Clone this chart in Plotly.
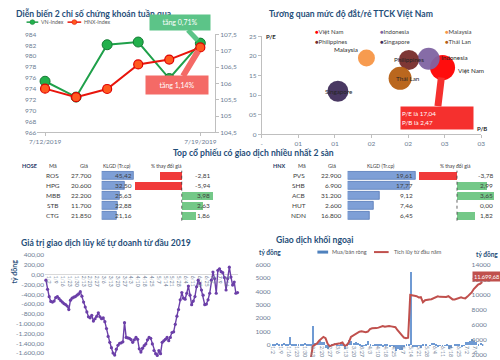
import plotly.graph_objects as go

W, H = 500, 360
def fx(x): return x / W
def fy(y): return 1 - y / H

FONT = "Lato"
TITLE_C = "#1F4E79"
TICK_C = "#6B7C93"
TXT_C = "#404040"
TITLE_SIZE = 8.6

# ---------------- data ----------------
# Panel 1: index movement last week
dates = ["7/12/2019", "7/15/2019", "7/16/2019", "7/17/2019", "7/18/2019", "7/19/2019"]
vn_index = [975.4, 972.5, 982.1, 982.6, 975.9, 982.4]
hnx_index = [105.84, 105.58, 105.83, 106.58, 106.73, 107.10]
vn_change_text = "tăng 0,71%"
hnx_change_text = "tăng 1,14%"
left_ticks = [966, 968, 970, 972, 974, 976, 978, 980, 982, 984]
right_ticks = [104.5, 105, 105.5, 106, 106.5, 107, 107.5]
right_tick_text = ["104,5", "105", "105,5", "106", "106,5", "107", "107,5"]

# Panel 2: valuation bubbles
countries = ["Việt Nam", "Indonesia", "Malaysia", "Philippines", "Singapore", "Thái Lan"]
pb = [2.47, 2.28, 1.43, 2.01, 1.04, 1.89]
pe = [17.04, 19.3, 19.5, 19.0, 11.0, 14.3]
bubble_size = [25, 22, 17, 20, 21, 23]
country_colors = ["#FF0000", "#8064A2", "#F79646", "#772C2A", "#3F2D5A", "#B65F12"]
pb_ticks = [0, 0.5, 1, 1.5, 2, 2.5, 3]
pb_tick_text = ["-", "01", "01", "02", "02", "03", "03"]
pe_ticks = [0, 5, 10, 15, 20, 25]
pe_tick_text = ["0", "05", "10", "15", "20", "25"]

# Panel 3: top traded stocks
hose_codes = ["ROS", "HPG", "MBB", "STB", "CTG"]
hose_price = [27700, 20600, 22200, 11700, 21850]
hose_vol = [45.42, 32.50, 25.63, 22.88, 21.16]
hose_chg = [-2.81, -5.94, 3.98, 2.63, 1.86]
hnx_codes = ["PVS", "SHB", "ACB", "HUT", "NDN"]
hnx_price = [22900, 6900, 31200, 2600, 16800]
hnx_vol = [19.61, 17.77, 9.12, 7.46, 6.45]
hnx_chg = [-3.78, 2.99, 3.65, 0.00, 1.82]

# Panel 4: proprietary trading cumulative value (ty dong)
prop_cum = [
    -113, -300, -450, -547, -560, -540, -467, -450, -490, -530,
    -560, -590, -610, -640, -713, -520, -480, -460, -447, -420,
    -393, -347, -440, -560, -660, -760, -860, -880, -830, -947,
    -900, -850, -780, -860, -900, -880, -960, -1100, -1260, -1380,
    -1490, -1600, -1640, -1520, -1440, -1400, -1390, -1370, -980, -1280,
    -1290, -1300, -1327, -1380, -1330, -1280, -1320, -1513, -1580, -1500,
    -1450, -1413, -1330, -1280, -1300, -1413, -1547, -1613, -1647, -1550,
    -1613, -1380, -1350, -1320, -1280, -1347, -1280, -1180, -1167, -1013,
    -847, -713, -513, -367, -480, -500, -380, -233, -420, -613,
    -540, -447, -247, -113, -180, -313, -420, -613, -600, -513,
    -380, -113, 53, -80, -380, 87, 120, 60, 40, -60,
    -313, -80, 153, -50, -213, -150, -380, -367,
]
week_labels = ["1/2", "1/9", "1/16", "1/23", "1/30", "2/13", "2/20", "2/27", "3/6",
               "3/13", "3/20", "3/27", "4/3", "4/10", "4/18", "4/25", "5/7", "5/14",
               "5/21", "5/28", "6/4", "6/11", "6/18", "6/25", "7/2", "7/9", "7/16"]
prop_ticks = [400, 200, 0, -200, -400, -600, -800, -1000, -1200, -1400, -1600]
prop_tick_text = ["400,00", "200,00", "0,00", "-200,00", "-400,00", "-600,00", "-800,00",
                  "-1.000,00", "-1.200,00", "-1.400,00", "-1.600,00"]

# Panel 5: foreign trading
foreign_net = [
    120, 60, 180, 90, 40, 150, 60, 80, 615, 40,
    70, 60, 90, 50, 70, 200, 80, 60, 90, 1420,
    180, 170, 350, 280, 220, -170, -300, -120, 50, 150,
    70, 30, 70, 110, -250, 70, 380, 300, 170, 280,
    170, 50, -70, -30, 70, 330, 110, -20, 40, 60,
    140, 80, -100, 60, 50, -60, -30, -80, -400, -300,
    -350, -320, -80, 50, 60, 5490, -80, -70, -150, 30,
    -200, 120, 100, 0, 20, 150, 150, 100, -80, -20,
    20, -20, 100, -250, -170, 0, 70, 100, 100, -100,
    -30, 230, 250, 300, 450, 300, 280, 120, 150, 100,
]
foreign_cum = [
    300, 350, 420, 500, 560, 640, 700, 760, 830, 890,
    960, 1020, 1090, 1150, 1220, 1300, 1370, 1440, 1500, 3200,
    3380, 3550, 3920, 4200, 4420, 4250, 3500, 3200, 3250, 3400,
    3470, 3500, 3570, 3680, 3250, 3320, 3700, 4400, 4570, 4850,
    5020, 5100, 5150, 5080, 5050, 5120, 5450, 5560, 5540, 5580,
    5640, 5780, 5860, 5760, 5820, 5870, 5810, 5780, 5700, 5300,
    5000, 4650, 4330, 4250, 4300, 9970, 9950, 9870, 9800, 9650,
    9680, 9000, 9280, 9380, 9380, 9400, 9550, 9700, 9800, 9720,
    9700, 9720, 9700, 9800, 9550, 9380, 9380, 9450, 9550, 9650,
    9550, 9520, 9750, 10000, 10300, 10750, 11050, 11330, 11450, 11699.68,
]
foreign_left_ticks = [0, 1000, 2000, 3000, 4000, 5000, 6000]
foreign_right_ticks = [2000, 4000, 6000, 8000, 10000, 12000, 14000]

# ---------------- helpers ----------------
def vn_num(v, dec=2):
    s = f"{v:,.{dec}f}"
    return s.replace(",", "X").replace(".", ",").replace("X", ".")

annotations = []
shapes = []

def ann(text, x, y, size=6, color=TXT_C, xanchor="center", yanchor="middle", **kw):
    annotations.append(dict(text=text, x=fx(x), y=fy(y), xref="paper", yref="paper",
                            showarrow=False, xanchor=xanchor, yanchor=yanchor,
                            font=dict(size=size, color=color, family=FONT), **kw))

fig = go.Figure()

# ---------------- Panel 1 ----------------
xi = list(range(len(dates)))
fig.add_trace(go.Scatter(x=xi, y=vn_index, mode="lines+markers", xaxis="x", yaxis="y",
                         line=dict(color="#1FA04A", width=2),
                         marker=dict(size=10, color="#22B14C", line=dict(color="#157A35", width=1)),
                         cliponaxis=False))
fig.add_trace(go.Scatter(x=xi, y=hnx_index, mode="lines+markers", xaxis="x", yaxis="y2",
                         line=dict(color="#E8150C", width=2),
                         marker=dict(size=9, color="#FF5A1F", line=dict(color="#E00000", width=1.2)),
                         cliponaxis=False))
ann("<b>Diễn biến 2 chỉ số chứng khoán tuần qua</b>", 6, 10, size=TITLE_SIZE, color=TITLE_C, xanchor="left")
# legend
shapes.append(dict(type="line", xref="paper", yref="paper", x0=fx(19), x1=fx(31), y0=fy(18.5), y1=fy(18.5),
                   line=dict(color="#1FA04A", width=1.5)))
shapes.append(dict(type="circle", xref="paper", yref="paper", x0=fx(22.5), x1=fx(27.5), y0=fy(21), y1=fy(16),
                   fillcolor="#22B14C", line=dict(color="#157A35", width=0.5)))
ann("VN-Index", 32, 18.5, size=5.3, color="#595959", xanchor="left")
shapes.append(dict(type="line", xref="paper", yref="paper", x0=fx(61), x1=fx(75), y0=fy(18.5), y1=fy(18.5),
                   line=dict(color="#E8150C", width=1.5)))
shapes.append(dict(type="circle", xref="paper", yref="paper", x0=fx(65.5), x1=fx(70.5), y0=fy(21), y1=fy(16),
                   fillcolor="#FF5A1F", line=dict(color="#E00000", width=0.5)))
ann("HNX-Index", 76, 18.5, size=5.3, color="#595959", xanchor="left")
annotations.append(dict(x=xi[-1], y=vn_index[-1], xref="x", yref="y", text=vn_change_text,
                        showarrow=True, arrowhead=0, arrowwidth=5, arrowcolor="#5CC488", ax=-20, ay=-21,
                        standoff=4, bgcolor="#5CC488", width=58, height=13,
                        font=dict(size=7, color="white", family=FONT)))
annotations.append(dict(x=xi[-1], y=hnx_index[-1], xref="x", yref="y2", text=hnx_change_text,
                        showarrow=True, arrowhead=0, arrowwidth=6, arrowcolor="#F46A66", ax=-23, ay=38,
                        standoff=4, bgcolor="#F46A66", width=60, height=16,
                        font=dict(size=7, color="white", family=FONT)))

# ---------------- Panel 2 ----------------
label_place = {"Việt Nam": ("left", 13, -3), "Indonesia": ("left", 10, 1),
               "Malaysia": ("right", -6, 8), "Philippines": ("center", 0, 0),
               "Singapore": ("center", 1, 0), "Thái Lan": ("center", 8, 0)}
for i, c in enumerate(countries):
    fig.add_trace(go.Scatter(x=[pb[i]], y=[pe[i]], mode="markers", xaxis="x3", yaxis="y3",
                             marker=dict(size=bubble_size[i], color=country_colors[i], opacity=0.95,
                                         line=dict(width=0)), cliponaxis=False))
for i, c in enumerate(countries):
    xa, xs, ys = label_place[c]
    annotations.append(dict(x=pb[i], y=pe[i], xref="x3", yref="y3", text=c, showarrow=False,
                            xanchor=xa, yanchor="middle", xshift=xs, yshift=ys,
                            font=dict(size=6.3, color="#262626", family=FONT)))
ann("<b>Tương quan mức độ đắt/rẻ TTCK Việt Nam</b>", 265, 10, size=TITLE_SIZE, color=TITLE_C, xanchor="left")
leg_x = [313, 379, 446]
leg_y = [28, 38]
for i, c in enumerate(countries):
    col, row = i % 3, i // 3
    ann(f"<span style='color:{country_colors[i]}'>●</span>{c}", leg_x[col], leg_y[row], size=6,
        color="#404040", xanchor="left")
ann("<b>P/E</b>", 262, 33, size=6, color="#262626", xanchor="left")
ann("<b>P/B</b>", 478, 127, size=6, color="#262626", xanchor="left")
annotations.append(dict(x=pb[0], y=pe[0], xref="x3", yref="y3",
                        text=f"P/E là {vn_num(pe[0])}<br>P/B là {vn_num(pb[0])}", align="left",
                        showarrow=True, arrowhead=0, arrowwidth=7, arrowcolor="#F5302E", ax=-6, ay=50,
                        standoff=10, bgcolor="#F5302E", width=70, height=20, borderpad=1,
                        font=dict(size=6.3, color="white", family=FONT)))

# ---------------- Panel 3 ----------------
ann("<b>Top cổ phiếu có giao dịch nhiều nhất 2 sàn</b>", 252, 152, size=TITLE_SIZE, color=TITLE_C)
row_y0, row_h = 170, 10.2
ry = list(range(5))
def bar_color(v):
    return "#F03A3A" if v < 0 else "#74C888"
fig.add_trace(go.Bar(x=hose_vol, y=ry, orientation="h", xaxis="x4", yaxis="y4", width=0.8,
                     marker=dict(color="#7E9FD6", line=dict(color="#4A70B0", width=0.7))))
fig.add_trace(go.Bar(x=hose_chg, y=ry, orientation="h", xaxis="x5", yaxis="y5", width=0.8,
                     marker=dict(color=[bar_color(v) for v in hose_chg], line=dict(width=0))))
fig.add_trace(go.Bar(x=hnx_vol, y=ry, orientation="h", xaxis="x6", yaxis="y6", width=0.8,
                     marker=dict(color="#7E9FD6", line=dict(color="#4A70B0", width=0.7))))
fig.add_trace(go.Bar(x=hnx_chg, y=ry, orientation="h", xaxis="x7", yaxis="y7", width=0.8,
                     marker=dict(color=[bar_color(v) for v in hnx_chg], line=dict(width=0))))
for xa in ["x5", "x7"]:
    shapes.append(dict(type="line", xref=xa, yref=f"y{xa[1:]} domain", x0=0, x1=0, y0=0, y1=1,
                       line=dict(color="#404040", width=0.8, dash="dot")))
hdr_y = 165
ann("<b>HOSE</b>", 22, hdr_y, size=5.5, color="#1F3864")
ann("Mã", 46, hdr_y, size=5.5)
ann("Giá", 78, hdr_y, size=5.5)
ann("KLGD (Tr.cp)", 112, hdr_y, size=5)
ann("% thay đổi giá", 162, hdr_y, size=5)
ann("<b>HNX</b>", 278, hdr_y, size=5.5, color="#1F3864")
ann("Mã", 301, hdr_y, size=5.5)
ann("Giá", 332, hdr_y, size=5.5)
ann("KLGD (Tr.cp)", 382, hdr_y, size=5)
ann("% thay đổi giá", 458, hdr_y, size=5)
for i in range(5):
    yy = row_y0 + (i + 0.5) * row_h
    ann(hose_codes[i], 46, yy, size=6.5)
    ann(vn_num(hose_price[i], 0), 88, yy, size=6.5, xanchor="right")
    ann(vn_num(hose_vol[i]), 129, yy, size=6.5, xanchor="right")
    ann(vn_num(hose_chg[i]), 209, yy, size=6.5, xanchor="right")
    ann(hnx_codes[i], 298, yy, size=6.5)
    ann(vn_num(hnx_price[i], 0), 344, yy, size=6.5, xanchor="right")
    ann(vn_num(hnx_vol[i]), 417, yy, size=6.5, xanchor="right")
    ann(vn_num(hnx_chg[i]), 499, yy, size=6.5, xanchor="right")

# ---------------- Panel 4 ----------------
n4 = len(prop_cum)
fig.add_trace(go.Scatter(x=list(range(n4)), y=prop_cum, mode="lines+markers", xaxis="x8", yaxis="y8",
                         line=dict(color="#6B3FA8", width=1.4),
                         marker=dict(size=3.2, color="#6B3FA8"), cliponaxis=False))
ann("<b>Giá trị giao dịch lũy kế tự doanh từ đầu 2019</b>", 11, 244, size=TITLE_SIZE, color=TITLE_C, xanchor="left")
ann("<b>tỷ đồng</b>", 6, 273, size=7, color=TITLE_C, textangle=-90)
x8_left, x8_right = 38, 236
pxu4 = (x8_right - x8_left) / n4
prop_tickvals = [(42 + 7 * k - x8_left) / pxu4 - 0.5 for k in range(len(week_labels))]

# ---------------- Panel 5 ----------------
n5 = len(foreign_net)
fig.add_trace(go.Bar(x=list(range(n5)), y=foreign_net, xaxis="x9", yaxis="y9", width=0.45,
                     marker=dict(color="#6F9AD3", line=dict(width=0))))
fig.add_trace(go.Scatter(x=list(range(n5)), y=foreign_cum, mode="lines", xaxis="x9", yaxis="y10",
                         line=dict(color="#C0504D", width=2)))
ann("<b>Giao dịch khối ngoại</b>", 273, 241, size=TITLE_SIZE, color=TITLE_C, xanchor="left")
ann("<b>tỷ đồng</b>", 255, 253, size=6.5, color=TITLE_C, xanchor="left")
ann("<b>tỷ đồng</b>", 477, 255, size=6.5, color=TITLE_C, xanchor="left")
shapes.append(dict(type="line", xref="paper", yref="paper", x0=fx(317), x1=fx(328), y0=fy(253), y1=fy(253),
                   line=dict(color="#4F81BD", width=3)))
ann("Mua/bán ròng", 330, 253, size=5.5, color="#595959", xanchor="left")
shapes.append(dict(type="line", xref="paper", yref="paper", x0=fx(375), x1=fx(390), y0=fy(253), y1=fy(253),
                   line=dict(color="#C0504D", width=2)))
ann("Tích lũy từ đầu năm", 393, 253, size=5.5, color="#595959", xanchor="left")
ann(vn_num(foreign_cum[-1]), 475, 278, size=5.6, color="white", xanchor="left", bgcolor="#C0504D", borderpad=1)
x9_left, x9_right = 270, 487
pxu5 = (x9_right - x9_left) / n5
foreign_tickvals = [k * 8.3 / pxu5 for k in range(26)]

# ---------------- layout ----------------
tf = dict(size=6.5, color=TICK_C, family=FONT)
hidden = dict(visible=False, showgrid=False, zeroline=False)
fig.update_layout(
    width=W, height=H, autosize=False, margin=dict(l=0, r=0, t=0, b=0, pad=0),
    paper_bgcolor="white", plot_bgcolor="rgba(0,0,0,0)", showlegend=False,
    font=dict(family=FONT, size=7, color=TXT_C), bargap=0,
    xaxis=dict(domain=[fx(30), fx(212)], range=[-0.25, 5.47], anchor="y", tickvals=[0, 5],
               ticktext=[dates[0], dates[-1]], showline=True, linecolor="#BFBFBF", ticks="outside",
               ticklen=3, tickcolor="#BFBFBF", tickfont=tf, showgrid=False, zeroline=False),
    yaxis=dict(domain=[fy(131), fy(31)], range=[966, 984], tickvals=left_ticks, showgrid=False,
               zeroline=False, tickfont=tf, anchor="x"),
    yaxis2=dict(overlaying="y", side="right", anchor="x", range=[104.5, 107.5], tickvals=right_ticks,
                ticktext=right_tick_text, showline=True, linecolor="#BFBFBF", ticks="outside",
                ticklen=3, tickcolor="#BFBFBF", tickfont=tf, showgrid=False, zeroline=False),
    xaxis3=dict(domain=[fx(260), fx(485)], range=[0, 3], anchor="y3", tickvals=pb_ticks,
                ticktext=pb_tick_text, showline=True, linecolor="#BFBFBF", ticks="outside", ticklen=3,
                tickcolor="#BFBFBF", tickfont=tf, showgrid=False, zeroline=False),
    yaxis3=dict(domain=[fy(133), fy(33)], range=[0, 25], anchor="x3", tickvals=pe_ticks,
                ticktext=pe_tick_text, showline=True, linecolor="#BFBFBF", ticks="outside", ticklen=3,
                tickcolor="#BFBFBF", tickfont=tf, showgrid=False, zeroline=False),
    xaxis4=dict(domain=[fx(96), fx(131)], range=[0, 48.2], anchor="y4", **hidden),
    yaxis4=dict(domain=[fy(row_y0 + 5 * row_h), fy(row_y0)], range=[4.5, -0.5], anchor="x4", **hidden),
    xaxis5=dict(domain=[fx(126), fx(214)], range=[-6.42, 4.44], anchor="y5", **hidden),
    yaxis5=dict(domain=[fy(row_y0 + 5 * row_h), fy(row_y0)], range=[4.5, -0.5], anchor="x5", **hidden),
    xaxis6=dict(domain=[fx(348), fx(420)], range=[0, 20.17], anchor="y6", **hidden),
    yaxis6=dict(domain=[fy(row_y0 + 5 * row_h), fy(row_y0)], range=[4.5, -0.5], anchor="x6", **hidden),
    xaxis7=dict(domain=[fx(418), fx(500)], range=[-4.08, 3.88], anchor="y7", **hidden),
    yaxis7=dict(domain=[fy(row_y0 + 5 * row_h), fy(row_y0)], range=[4.5, -0.5], anchor="x7", **hidden),
    xaxis8=dict(domain=[fx(x8_left), fx(x8_right)], range=[-0.5, n4 - 0.5], anchor="free",
                position=fy(276), tickvals=prop_tickvals, ticktext=week_labels, tickangle=90,
                tickfont=dict(size=5, color=TICK_C, family=FONT), ticks="", showgrid=False,
                zeroline=False, showline=False),
    yaxis8=dict(domain=[0, fy(256)], range=[-1680, 400], anchor="x8", tickvals=prop_ticks,
                ticktext=prop_tick_text, tickfont=tf, showgrid=False, zeroline=True,
                zerolinecolor="#D9D9D9", zerolinewidth=1),
    xaxis9=dict(domain=[fx(x9_left), fx(x9_right)], range=[-0.5, n5 - 0.5], anchor="free",
                position=fy(347.7), tickvals=foreign_tickvals, ticktext=week_labels[:26], tickangle=90,
                tickfont=dict(size=5, color=TICK_C, family=FONT), ticks="", showgrid=False,
                zeroline=False, showline=False),
    yaxis9=dict(domain=[0, fy(265.7)], range=[-900, 6000], anchor="x9", tickvals=foreign_left_ticks,
                ticktext=[str(v) for v in foreign_left_ticks], tickfont=tf, showgrid=False, zeroline=False),
    yaxis10=dict(overlaying="y9", side="right", anchor="free", position=fx(474), range=[1754, 14000],
                 tickvals=foreign_right_ticks, ticktext=[str(v) for v in foreign_right_ticks],
                 tickfont=tf, showgrid=False, zeroline=False),
    annotations=annotations, shapes=shapes,
)

fig.write_html("out.html", config={"displayModeBar": False},
               post_script="document.body.style.margin='0px';document.body.style.overflow='hidden';")
